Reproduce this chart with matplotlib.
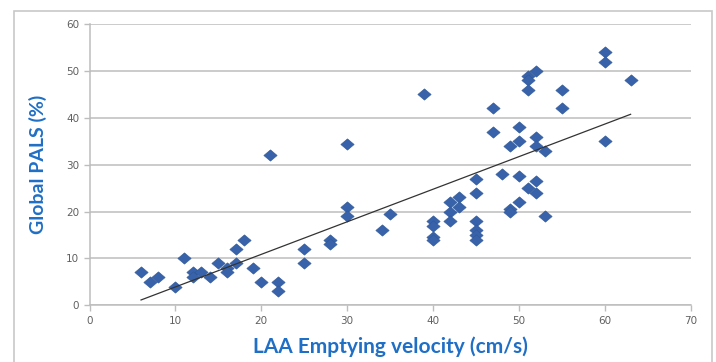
import numpy as np
import matplotlib
matplotlib.use("Agg")
from matplotlib import pyplot as plt
from matplotlib.patches import Rectangle
from matplotlib.path import Path

# LAA emptying velocity (cm/s) vs global PALS (%)
velocity = [6, 7, 8, 10, 11, 12, 12, 13, 14, 15, 16, 16, 17, 17, 18, 19, 20, 21, 22, 22,
            25, 25, 28, 28, 30, 30, 30, 34, 35, 39,
            40, 40, 40, 40, 42, 42, 42, 43, 43,
            45, 45, 45, 45, 45, 45, 47, 47, 48,
            49, 49, 49, 50, 50, 50, 50, 51, 51, 51, 51,
            52, 52, 52, 52, 52, 53, 53, 55, 55, 60, 60, 60, 63]
pals = [7, 5, 6, 4, 10, 7, 6, 7, 6, 9, 8, 7, 9, 12, 14, 8, 5, 32, 5, 3,
        12, 9, 14, 13, 21, 19, 34.5, 16, 19.5, 45,
        18, 17, 14.5, 14, 22, 20, 18, 23, 21,
        27, 24, 18, 16, 15, 14, 42, 37, 28,
        34, 20.5, 20, 38, 35, 27.5, 22, 49, 48, 46, 25,
        50, 36, 34, 26.5, 24, 33, 19, 46, 42, 54, 52, 35, 48]

x_ticks = [0, 10, 20, 30, 40, 50, 60, 70]
y_ticks = [0, 10, 20, 30, 40, 50, 60]

label_blue = "#1f6fc6"
point_blue = "#3863aa"
grid_gray = "#bdbdbd"

# slightly flattened diamond marker
diamond = Path([(-1, 0), (0, 0.85), (1, 0), (0, -0.85), (-1, 0)],
               [Path.MOVETO, Path.LINETO, Path.LINETO, Path.LINETO, Path.CLOSEPOLY])

fig = plt.figure(figsize=(7.16, 3.62), dpi=100)
fig.patch.set_facecolor("white")
fig.add_artist(Rectangle((14 / 716, -0.05), 698 / 716, 1.05 - 11 / 362,
                         transform=fig.transFigure, fill=False,
                         edgecolor="#c8c8c8", linewidth=1.2))

ax = fig.add_axes([0.125, 0.1566, 0.8397, 0.777])
ax.set_xlim(0, 70)
ax.set_ylim(0, 60)
ax.set_xticks(x_ticks)
ax.set_yticks(y_ticks)

ax.grid(axis="y", color=grid_gray, linewidth=1.1)
ax.set_axisbelow(True)
for side in ("top", "right"):
    ax.spines[side].set_visible(False)
for side in ("left", "bottom"):
    ax.spines[side].set_color(grid_gray)
    ax.spines[side].set_linewidth(1.1)
ax.tick_params(colors=grid_gray, labelcolor="#606060", labelsize=7.5,
               length=4, width=1.0, direction="out")

ax.scatter(velocity, pals, marker=diamond, s=92, color=point_blue,
           edgecolors="#2f5896", linewidths=0.4, zorder=3)

# least-squares trendline over the data range
slope, intercept = np.polyfit(velocity, pals, 1)
xs = np.array([min(velocity), max(velocity)])
ax.plot(xs, slope * xs + intercept, color="#333333", linewidth=0.9, zorder=4)

ax.set_xlabel("LAA Emptying velocity (cm/s)", fontsize=15, fontweight="bold",
              color=label_blue, family="Lato", labelpad=8)
ax.set_ylabel("Global PALS (%)", fontsize=14, fontweight="bold",
              color=label_blue, family="Lato", labelpad=14)

fig.savefig("out.png", dpi=100)
